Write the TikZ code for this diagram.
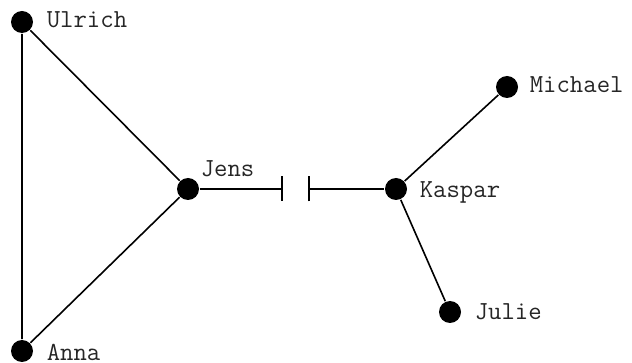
\documentclass[tikz,border=0pt]{standalone}
\usetikzlibrary{arrows.meta}
\tikzstyle{person}=[circle, fill=black, inner sep=0pt, minimum size=11pt]
\tikzstyle{who}=[anchor=base west, inner sep=0pt, text=black!85, font=\ttfamily\fontsize{13}{14}\selectfont]

\begin{document}
\begin{tikzpicture}[x=0.5pt, y=-0.5pt, line width=0.8pt]
                \useasboundingbox (0,0) rectangle (632,363);
                \node[person] (ulrich) at (22, 22) {};
                \node[person] (anna) at (22, 351) {};
                \node[person] (jens) at (188, 189) {};
                \node[person] (kaspar) at (396, 189) {};
                \node[person] (michael) at (507, 87) {};
                \node[person] (julie) at (450, 312) {};
                \coordinate (gapl) at (283, 189);
                \coordinate (gapr) at (308, 189);
                \node[who] (ulrich-l) at (46, 28) {Ulrich};
                \node[who] (anna-l) at (46, 360) {Anna};
                \node[who] (jens-l) at (200, 177) {Jens};
                \node[who] (kaspar-l) at (419, 198) {Kaspar};
                \node[who] (michael-l) at (529, 93) {Michael};
                \node[who] (julie-l) at (474, 320) {Julie};
                \draw (ulrich)--(anna) (ulrich)--(jens) (anna)--(jens);
                \draw (kaspar)--(michael) (kaspar)--(julie);
                \draw[-{Bar[width=12.5pt]}]  (jens)--(gapl);
                \draw[{Bar[width=12.5pt]}-]  (gapr)--(kaspar);
            \end{tikzpicture}
\end{document}
